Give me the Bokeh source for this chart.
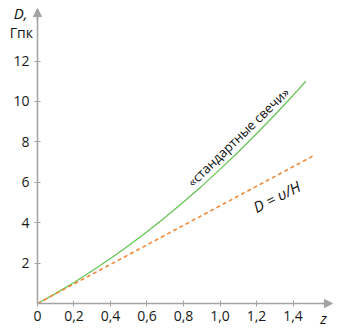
from bokeh.plotting import figure
from bokeh.models import Range1d, FixedTicker, Arrow, NormalHead
from bokeh.core.properties import value
from bokeh.embed import file_html
from bokeh.resources import INLINE

# ---- data ----
z_candles = [0, 0.1, 0.2, 0.3, 0.4, 0.5, 0.6, 0.7, 0.8, 0.9, 1.0, 1.1, 1.2, 1.3, 1.4, 1.47]
D_candles = [0, 0.50, 1.04, 1.62, 2.23, 2.87, 3.55, 4.27, 5.03, 5.81, 6.64, 7.50, 8.40, 9.33, 10.3, 11.0]

z_hubble = [0, 1.52]
D_hubble = [0, 7.35]

x_ticks = [0.0, 0.2, 0.4, 0.6, 0.8, 1.0, 1.2, 1.4]
x_tick_labels = ["0", "0,2", "0,4", "0,6", "0,8", "1,0", "1,2", "1,4"]
y_ticks = [2, 4, 6, 8, 10, 12]

label_candles = "«стандартные свечи»"
label_hubble = "D = υ/H"
y_title_1 = "D,"
y_title_2 = "Гпк"
x_title = "z"

AXIS = "#a3a3a3"
GREEN = "#66c455"
ORANGE = "#f28a3a"
FONT = "Open Sans"

p = figure(width=337, height=334,
           x_range=Range1d(-0.2027, 1.6438), y_range=Range1d(-1.535, 15.0),
           output_backend="svg", toolbar_location=None,
           min_border=0, min_border_left=0, min_border_right=0,
           min_border_top=0, min_border_bottom=0)
p.outline_line_color = None
p.grid.visible = False
p.background_fill_color = "white"

for ax in (p.xaxis[0], p.yaxis[0]):
    ax.fixed_location = 0
    ax.axis_line_color = AXIS
    ax.axis_line_width = 1.5
    ax.major_tick_line_color = AXIS
    ax.major_tick_in = 3
    ax.major_tick_out = 3
    ax.minor_tick_line_color = None
    ax.major_label_text_font = FONT
    ax.major_label_text_font_size = "14px"
    ax.major_label_text_color = "#1a1a1a"

p.xaxis.bounds = (0, 1.6)
p.yaxis.bounds = (0, 14.55)
p.xaxis.ticker = FixedTicker(ticks=x_ticks)
p.xaxis.major_label_overrides = {t: s for t, s in zip(x_ticks, x_tick_labels)}
p.xaxis.major_label_standoff = 5
p.yaxis.ticker = FixedTicker(ticks=y_ticks)
p.yaxis.major_label_standoff = 5

# curves
p.line(z_candles, D_candles, line_color=GREEN, line_width=1.3)
p.line(z_hubble, D_hubble, line_color=ORANGE, line_width=1.6, line_dash="4 3")

# in-plot labels
p.text(x=[1.1], y=[8.25], text=[label_candles], angle=44.0, angle_units="deg",
       text_font=value(FONT), text_font_size="13px", text_color="#111111",
       text_align="center", text_baseline="middle")
p.text(x=[1.31], y=[5.3], text=[label_hubble], angle=27.0, angle_units="deg",
       text_font=value(FONT), text_font_style="italic", text_font_size="15px",
       text_color="#111111", text_align="center", text_baseline="middle")

# axis arrows
p.add_layout(Arrow(end=NormalHead(size=8, fill_color=AXIS, line_color=AXIS),
                   x_start=0, y_start=14.0, x_end=0, y_end=14.6,
                   line_color=AXIS, line_width=1.5))
p.add_layout(Arrow(end=NormalHead(size=8, fill_color=AXIS, line_color=AXIS),
                   x_start=1.56, y_start=0, x_end=1.616, y_end=0,
                   line_color=AXIS, line_width=1.5))

# axis titles
p.text(x=[-0.093], y=[14.36], text=[y_title_1], text_font=value(FONT),
       text_font_style="italic", text_font_size="15px", text_color="#111111",
       text_align="center", text_baseline="middle")
p.text(x=[-0.088], y=[13.42], text=[y_title_2], text_font=value(FONT),
       text_font_size="14px", text_color="#111111",
       text_align="center", text_baseline="middle")
p.text(x=[1.567], y=[-0.74], text=[x_title], text_font=value(FONT),
       text_font_style="italic", text_font_size="15px", text_color="#111111",
       text_align="center", text_baseline="middle")

open("out.html", "w").write(file_html(p, INLINE))
